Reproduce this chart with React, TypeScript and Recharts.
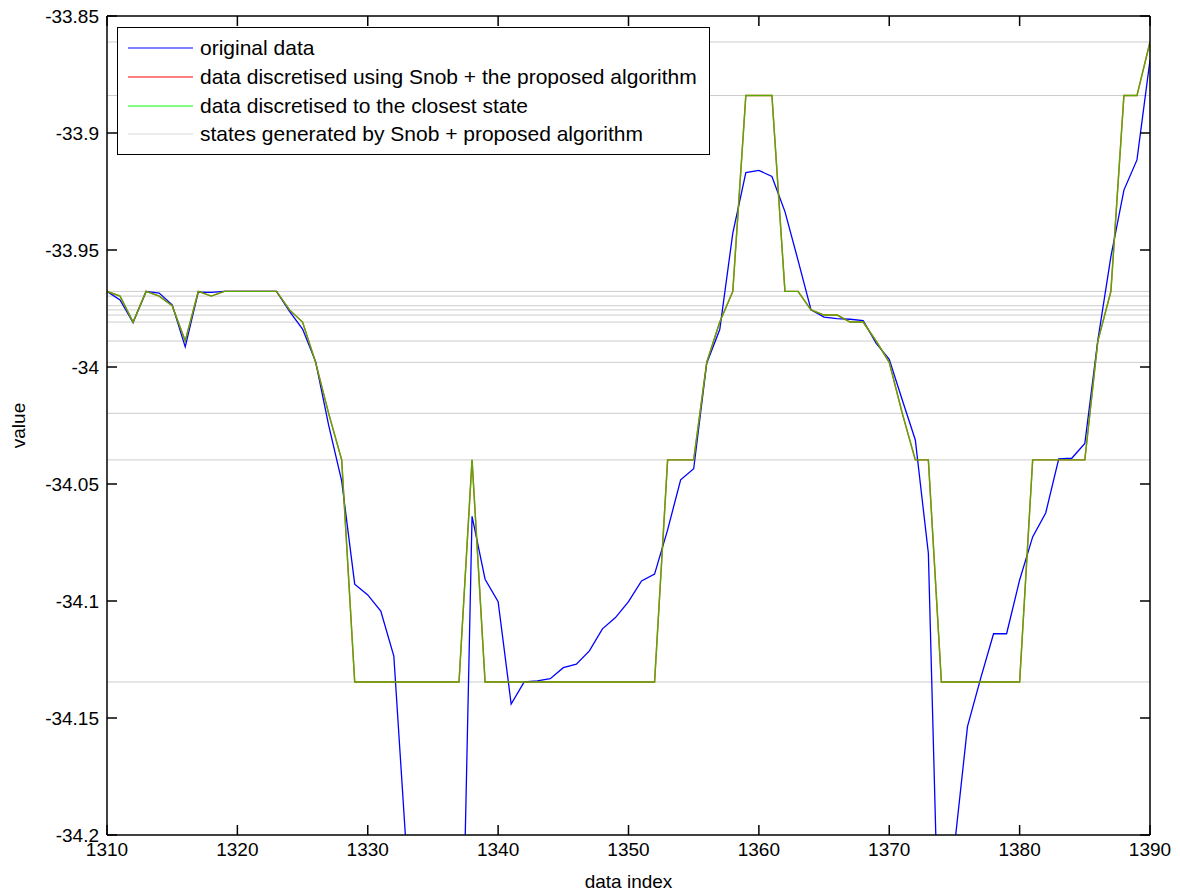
import { Legend, Line, LineChart, ReferenceLine, XAxis, YAxis } from "recharts";

const indices = [
  1310, 1311, 1312, 1313, 1314, 1315, 1316, 1317, 1318, 1319,
  1320, 1321, 1322, 1323, 1324, 1325, 1326, 1327, 1328, 1329,
  1330, 1331, 1332, 1333, 1334, 1335, 1336, 1337, 1338, 1339,
  1340, 1341, 1342, 1343, 1344, 1345, 1346, 1347, 1348, 1349,
  1350, 1351, 1352, 1353, 1354, 1355, 1356, 1357, 1358, 1359,
  1360, 1361, 1362, 1363, 1364, 1365, 1366, 1367, 1368, 1369,
  1370, 1371, 1372, 1373, 1374, 1375, 1376, 1377, 1378, 1379,
  1380, 1381, 1382, 1383, 1384, 1385, 1386, 1387, 1388, 1389,
  1390,
];

// original data
const original = [
  -33.9677, -33.9713, -33.981, -33.9677, -33.9684, -33.9734, -33.9914, -33.968, -33.9681, -33.9677,
  -33.9677, -33.9677, -33.9677, -33.9677, -33.9762, -33.9838, -33.9977, -34.0248, -34.0487, -34.0928,
  -34.0974, -34.1043, -34.1235, -34.21, -34.27, -34.31, -34.33, -34.325, -34.0638, -34.0907,
  -34.1003, -34.144, -34.1346, -34.1341, -34.1332, -34.1285, -34.127, -34.1213, -34.1119, -34.1071,
  -34.1003, -34.0914, -34.0885, -34.0696, -34.0482, -34.0435, -33.9984, -33.984, -33.9428, -33.9169,
  -33.916, -33.9186, -33.9336, -33.9543, -33.9756, -33.9787, -33.9793, -33.9796, -33.9802, -33.9899,
  -33.9967, -34.0141, -34.0312, -34.0796, -34.2906, -34.205, -34.1537, -34.1333, -34.114, -34.114,
  -34.091, -34.0726, -34.0624, -34.0393, -34.039, -34.0327, -33.9885, -33.9528, -33.9244, -33.9115,
  -33.8688,
];

// discretised to the closest state (the Snob result is the same)
const closest = [
  -33.9677, -33.9697, -33.9808, -33.9677, -33.9697, -33.9738, -33.9889, -33.9677, -33.9697, -33.9677,
  -33.9677, -33.9677, -33.9677, -33.9677, -33.9756, -33.9808, -33.998, -34.0198, -34.0397, -34.1346,
  -34.1346, -34.1346, -34.1346, -34.1346, -34.1346, -34.1346, -34.1346, -34.1346, -34.0397, -34.1346,
  -34.1346, -34.1346, -34.1346, -34.1346, -34.1346, -34.1346, -34.1346, -34.1346, -34.1346, -34.1346,
  -34.1346, -34.1346, -34.1346, -34.0397, -34.0397, -34.0397, -33.998, -33.9808, -33.9677, -33.884,
  -33.884, -33.884, -33.9677, -33.9677, -33.9756, -33.9778, -33.9778, -33.9808, -33.9808, -33.9889,
  -33.998, -34.0198, -34.0397, -34.0397, -34.1346, -34.1346, -34.1346, -34.1346, -34.1346, -34.1346,
  -34.1346, -34.0397, -34.0397, -34.0397, -34.0397, -34.0397, -33.9889, -33.9677, -33.884, -33.884,
  -33.8611,
];
const snob = closest;

const states = [
  -33.8611, -33.884, -33.9677, -33.9697, -33.9738, -33.9756, -33.9778,
  -33.9808, -33.9889, -33.998, -34.0198, -34.0397, -34.1346,
];

const xTicks = [1310, 1320, 1330, 1340, 1350, 1360, 1370, 1380, 1390];
const yTicks = [-33.85, -33.9, -33.95, -34, -34.05, -34.1, -34.15, -34.2];

const legendItems = [
  { label: "original data", color: "#0000ff" },
  { label: "data discretised using Snob + the proposed algorithm", color: "#ff0000" },
  { label: "data discretised to the closest state", color: "#00ff00" },
  { label: "states generated by Snob + proposed algorithm", color: "#d8d8d8" },
];

const data = indices.map((index, i) => ({
  index,
  original: original[i],
  snob: snob[i],
  closest: closest[i],
}));

const FONT = '"Liberation Sans", Arial, sans-serif';
const TICK_LEN = 10;

// ticks drawn inside the box, matlab style
const BottomTick = ({ x, y, payload }: any) => (
  <g>
    <path d={`M${x},${y - 8}V${y - 8 - TICK_LEN}`} stroke="#000" strokeWidth={1.5} fill="none" />
    <text x={x} y={y} dy="0.71em" textAnchor="middle" fontSize={19} fontFamily={FONT} fill="#000">
      {payload.value}
    </text>
  </g>
);

const LeftTick = ({ x, y, payload }: any) => (
  <g>
    <path d={`M${x + 8},${y}H${x + 8 + TICK_LEN}`} stroke="#000" strokeWidth={1.5} fill="none" />
    <text x={x} y={y} dy="0.355em" textAnchor="end" fontSize={19} fontFamily={FONT} fill="#000">
      {payload.value}
    </text>
  </g>
);

const TopTick = ({ x, y }: any) => (
  <path d={`M${x},${y}V${y + TICK_LEN}`} stroke="#000" strokeWidth={1.5} fill="none" />
);

const RightTick = ({ x, y }: any) => (
  <path d={`M${x},${y}H${x - TICK_LEN}`} stroke="#000" strokeWidth={1.5} fill="none" />
);

const LegendBox = () => (
  <div
    style={{
      boxSizing: "border-box",
      width: 593,
      height: 128,
      border: "1px solid #000",
      background: "#fff",
      paddingTop: 6,
      fontFamily: FONT,
      fontSize: 21,
      color: "#000",
    }}
  >
    {legendItems.map((item) => (
      <div key={item.label} style={{ display: "flex", alignItems: "center", height: 28.7 }}>
        <svg width={82} height={4} style={{ display: "block", flex: "none" }}>
          <line x1={10} x2={75} y1={2} y2={2} stroke={item.color} strokeWidth={1} />
        </svg>
        <span style={{ whiteSpace: "nowrap" }}>{item.label}</span>
      </div>
    ))}
  </div>
);

const App = () => {
  return (
    <div style={{ fontFamily: FONT, marginTop: -8 }}>
      <LineChart
        width={1164}
        height={896}
        data={data}
        margin={{ top: 15, right: 21, bottom: 0, left: 0 }}
      >
        <XAxis
          xAxisId="b"
          dataKey="index"
          type="number"
          domain={[1310, 1390]}
          ticks={xTicks}
          interval={0}
          allowDataOverflow
          height={61}
          tickSize={0}
          tickMargin={8}
          tickLine={false}
          axisLine={{ stroke: "#000", strokeWidth: 1.5 }}
          tick={BottomTick}
          label={({ viewBox }: any) => (
            <text
              x={viewBox.x + viewBox.width / 2}
              y={888}
              textAnchor="middle"
              fontSize={19}
              fontFamily={FONT}
              fill="#000"
            >
              data index
            </text>
          )}
        />
        <XAxis
          xAxisId="t"
          orientation="top"
          dataKey="index"
          type="number"
          domain={[1310, 1390]}
          ticks={xTicks}
          interval={0}
          allowDataOverflow
          height={1}
          tickSize={0}
          tickMargin={0}
          tickLine={false}
          axisLine={{ stroke: "#000", strokeWidth: 1.5 }}
          tick={TopTick}
        />
        <YAxis
          yAxisId="l"
          type="number"
          domain={[-34.2, -33.85]}
          ticks={yTicks}
          interval={0}
          allowDataOverflow
          width={99}
          tickSize={0}
          tickMargin={8}
          tickLine={false}
          axisLine={{ stroke: "#000", strokeWidth: 1.5 }}
          tick={LeftTick}
          label={({ viewBox }: any) => {
            const cy = viewBox.y + viewBox.height / 2;
            return (
              <text
                x={17}
                y={cy}
                transform={`rotate(-90, 17, ${cy})`}
                textAnchor="middle"
                fontSize={19}
                fontFamily={FONT}
                fill="#000"
              >
                value
              </text>
            );
          }}
        />
        <YAxis
          yAxisId="r"
          orientation="right"
          type="number"
          domain={[-34.2, -33.85]}
          ticks={yTicks}
          interval={0}
          allowDataOverflow
          width={1}
          tickSize={0}
          tickMargin={0}
          tickLine={false}
          axisLine={{ stroke: "#000", strokeWidth: 1.5 }}
          tick={RightTick}
        />
        {states.map((s) => (
          <ReferenceLine
            key={s}
            xAxisId="b"
            yAxisId="l"
            y={s}
            stroke="#cccccc"
            strokeWidth={1}
          />
        ))}
        <Line
          xAxisId="b"
          yAxisId="l"
          dataKey="original"
          stroke="#0000ff"
          strokeWidth={1.3}
          dot={false}
          activeDot={false}
          isAnimationActive={false}
        />
        <Line
          xAxisId="t"
          yAxisId="r"
          dataKey="snob"
          stroke="#ff0000"
          strokeWidth={1.4}
          dot={false}
          activeDot={false}
          isAnimationActive={false}
        />
        <Line
          xAxisId="b"
          yAxisId="l"
          dataKey="closest"
          stroke="#00ff00"
          strokeOpacity={0.66}
          strokeWidth={1.4}
          dot={false}
          activeDot={false}
          isAnimationActive={false}
        />
        <Legend
          layout="vertical"
          align="center"
          verticalAlign="middle"
          content={() => <LegendBox />}
          wrapperStyle={{ left: 109, top: 27, width: 593, height: 128 }}
        />
      </LineChart>
    </div>
  );
};

export default App;
